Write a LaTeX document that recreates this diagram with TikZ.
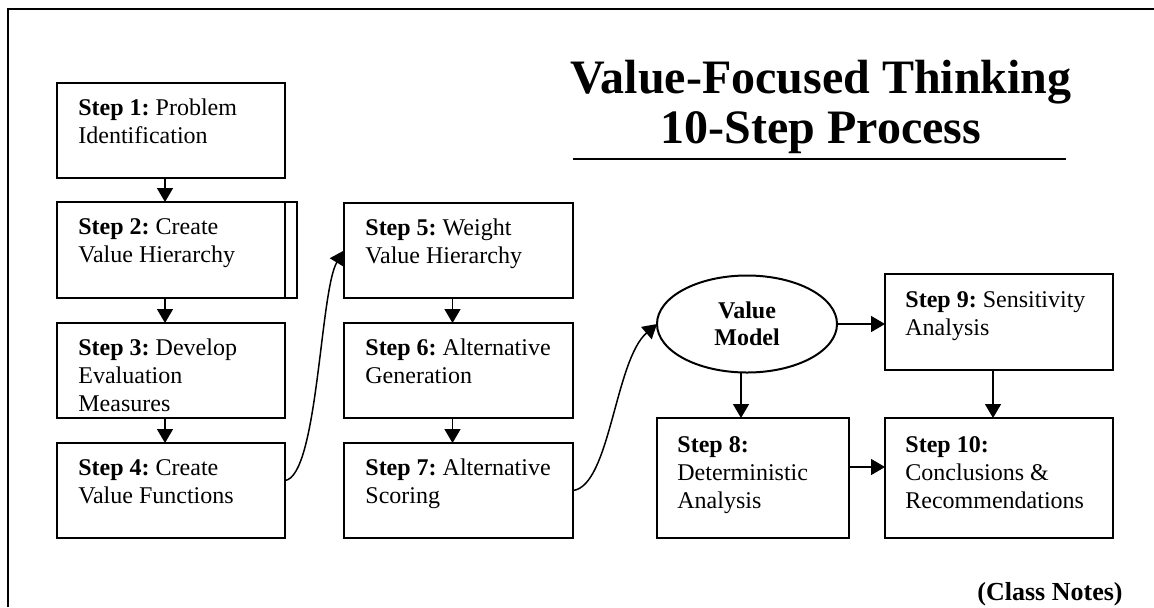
\documentclass[tikz,border=0pt]{standalone}
\usepackage{fontspec}
\setmainfont{Liberation Serif}
\usetikzlibrary{arrows.meta,shapes.geometric}
\frenchspacing
\newcommand\BoxLines[1]{\vtop{#1}}
\newcommand\BL[1]{\hbox{\strut #1}}
\begin{document}
\begin{tikzpicture}[x=0.5pt,y=-0.5pt,
  box/.style={draw, line width=1pt, anchor=north west, inner sep=0pt, outer sep=0pt},
  txt/.style={anchor=base west, inner sep=0pt, font=\fontsize{12pt}{14pt}\selectfont},
  arr/.style={line width=0.75pt, -{Triangle[length=7pt,width=8pt]}},
  vmodel/.style={draw, line width=1pt, ellipse, inner sep=0pt, outer sep=0pt, minimum width=90pt, minimum height=48.5pt, align=center, font=\fontsize{12pt}{13.5pt}\selectfont\bfseries}]
\useasboundingbox (0,0) rectangle (1154,607);
% frame
\coordinate (fa) at (7.5,607);
\coordinate (fb) at (7.5,9);
\coordinate (fc) at (1154,9);
\draw[line width=1pt] (fa) -- (fb) -- (fc);
% title
\node[anchor=base, inner sep=0pt, align=center, font=\fontsize{24pt}{25pt}\selectfont\bfseries] (title) at (821,143) {Value-Focused Thinking\\10-Step Process};
\coordinate (ula) at (573,159);
\coordinate (ulb) at (1066,159);
\draw[line width=1pt] (ula) -- (ulb);
% left column
\node[box, minimum width=114pt, minimum height=47.5pt] (s1) at (57,83) {};
\node[box, minimum width=114pt, minimum height=48pt] (s2) at (57,202) {};
\node[box, minimum width=114pt, minimum height=47.5pt] (s3) at (57,323) {};
\node[box, minimum width=114pt, minimum height=47.5pt] (s4) at (57,443) {};
\coordinate (s2x) at (297,298);
\draw[line width=1pt] (s2.north west) rectangle (s2x);
% middle column
\node[box, minimum width=114.5pt, minimum height=47.5pt] (s5) at (344,203) {};
\node[box, minimum width=114.5pt, minimum height=47.5pt] (s6) at (344,323) {};
\node[box, minimum width=114.5pt, minimum height=47.5pt] (s7) at (344,443) {};
% right part
\node[vmodel] (vm) at (747,324) {Value\\Model};
\node[box, minimum width=114pt, minimum height=48pt] (s9) at (885,274) {};
\node[box, minimum width=96pt, minimum height=60pt] (s8) at (657,418) {};
\node[box, minimum width=114pt, minimum height=60pt] (s10) at (885,418) {};
% texts
\node[txt] (t1) at ([xshift=10.5pt,yshift=-16pt]s1.north west) {\BoxLines{\BL{\textbf{Step 1:} Problem}\BL{Identification}}};
\node[txt] (t2) at ([xshift=10.5pt,yshift=-16pt]s2.north west) {\BoxLines{\BL{\textbf{Step 2:} Create}\BL{Value Hierarchy}}};
\node[txt] (t3) at ([xshift=10.5pt,yshift=-16pt]s3.north west) {\BoxLines{\BL{\textbf{Step 3:} Develop}\BL{Evaluation}\BL{Measures}}};
\node[txt] (t4) at ([xshift=10.5pt,yshift=-16pt]s4.north west) {\BoxLines{\BL{\textbf{Step 4:} Create}\BL{Value Functions}}};
\node[txt] (t5) at ([xshift=10.5pt,yshift=-16pt]s5.north west) {\BoxLines{\BL{\textbf{Step 5:} Weight}\BL{Value Hierarchy}}};
\node[txt] (t6) at ([xshift=10.5pt,yshift=-16pt]s6.north west) {\BoxLines{\BL{\textbf{Step 6:} Alternative}\BL{Generation}}};
\node[txt] (t7) at ([xshift=10.5pt,yshift=-16pt]s7.north west) {\BoxLines{\BL{\textbf{Step 7:} Alternative}\BL{Scoring}}};
\node[txt] (t8) at ([xshift=10pt,yshift=-17pt]s8.north west) {\BoxLines{\BL{\textbf{Step 8:}}\BL{Deterministic}\BL{Analysis}}};
\node[txt] (t9) at ([xshift=10pt,yshift=-16.5pt]s9.north west) {\BoxLines{\BL{\textbf{Step 9:} Sensitivity}\BL{Analysis}}};
\node[txt] (t10) at ([xshift=10pt,yshift=-17pt]s10.north west) {\BoxLines{\BL{\textbf{Step 10:}}\BL{Conclusions \&}\BL{Recommendations}}};
% class notes
\node[anchor=base east, inner sep=0pt, font=\fontsize{13pt}{15pt}\selectfont\bfseries] (cn) at (1123,600) {(Class Notes)};
% arrows
\draw[arr] ([xshift=-3pt]s1.south) -- ([xshift=-3pt]s2.north);
\draw[arr] ([xshift=-3pt]s2.south) -- ([xshift=-3pt]s3.north);
\draw[arr] ([xshift=-3pt]s3.south) -- ([xshift=-3pt]s4.north);
\draw[arr] ([xshift=-3pt]s5.south) -- ([xshift=-3pt]s6.north);
\draw[arr] ([xshift=-3pt]s6.south) -- ([xshift=-3pt]s7.north);
\draw[arr] ([yshift=5pt]s4.east) .. controls (318,476) and (320,290) .. (s5.west);
\draw[arr] (s7.east) .. controls (610,486) and (615,360) .. (vm.west);
\draw[arr] (vm.east) -- (vm.east -| s9.west);
\draw[arr] ([xshift=-3pt]vm.south) -- ([xshift=-3pt]vm.south |- s8.north);
\draw[arr] ([xshift=-3pt]s9.south) -- ([xshift=-3pt]s10.north);
\draw[arr] ([yshift=5.5pt]s8.east) -- ([yshift=5.5pt]s8.east -| s10.west);
\end{tikzpicture}
\end{document}
